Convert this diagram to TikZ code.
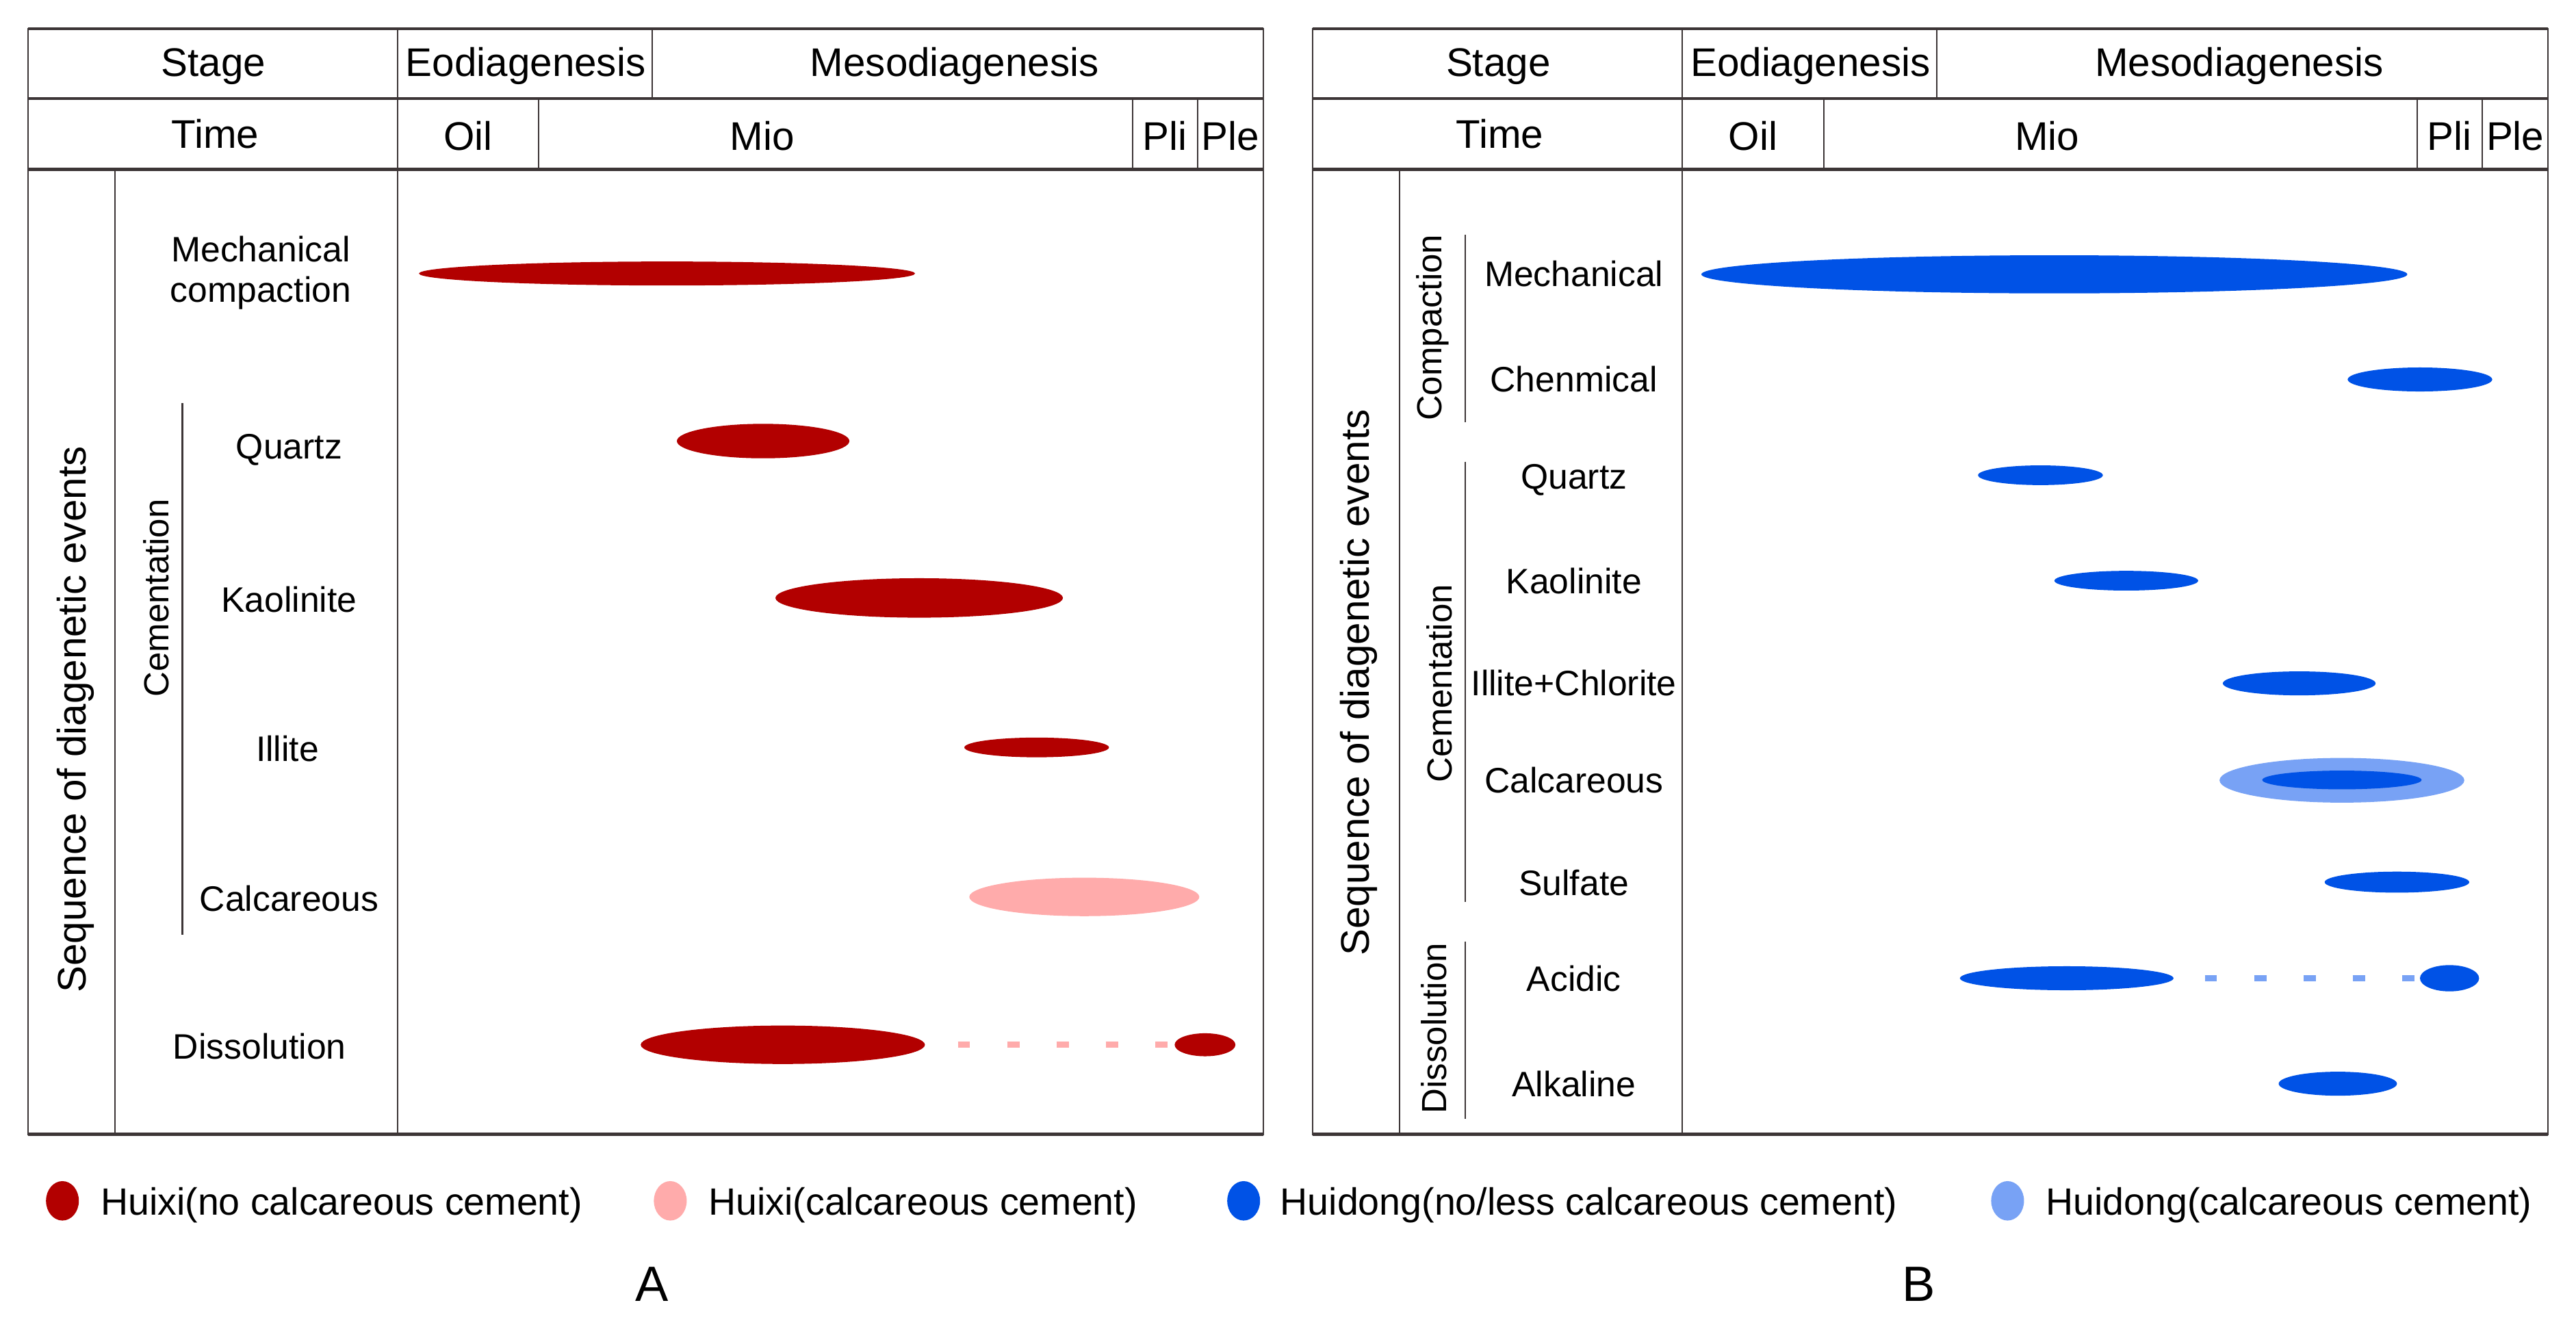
\documentclass[tikz,border=0pt]{standalone}
\usepackage{fontspec}
\setmainfont{Liberation Sans}
\usetikzlibrary{positioning,calc}
\definecolor{huixi}{HTML}{B20000}
\definecolor{huixicc}{HTML}{FFABAB}
\definecolor{huidong}{HTML}{0052E6}
\definecolor{huidongcc}{HTML}{78A2F5}
\definecolor{rulegray}{HTML}{3C3536}
% one diagenetic event: x from, x to, y, half height, colour
\newcommand{\event}[5]{\fill[#5] ({(#1+#2)/2},#3) ellipse [x radius={(#2-#1)/2}, y radius=#4];}

\begin{document}
\begin{tikzpicture}[x=0.024cm, y=-0.024cm,
  thickrule/.style={rulegray, line width=1.3pt},
  thinrule/.style={rulegray, line width=0.6pt},
  headtext/.style={font=\fontsize{16.6}{19}\selectfont, inner sep=0pt, anchor=base},
  evtext/.style={font=\fontsize{14.7}{16.6}\selectfont, inner sep=0pt, anchor=base},
  sidetext/.style={font=\fontsize{16.6}{19}\selectfont, inner sep=0pt, rotate=90},
  grouptext/.style={font=\fontsize{14.5}{17}\selectfont, inner sep=0pt, rotate=90},
  legtext/.style={font=\fontsize{15.8}{18}\selectfont, inner sep=0pt, anchor=base west},
  later/.style={line width=2.7pt, dash pattern=on 5.1pt off 15.4pt}
]
\useasboundingbox (0,0) rectangle (1568,818);

% Frames and headers of both panels
\foreach \ox/\pnl in {0/A,782/B}{
  \begin{scope}[shift={(\ox,0)}]
    \draw[thinrule] (17,17) -- (17,691) (769,17) -- (769,691) (242,17) -- (242,691) (70,103) -- (70,691);
    \draw[thinrule] (397,17) -- (397,60);
    \foreach \x in {328,689.5,729}
      \draw[thinrule] (\x,60) -- (\x,103);
    \foreach \y in {17.5,60,103,690.5}
      \draw[thickrule] (17,\y) -- (769,\y);
    \node[headtext] (stage\pnl) at (130,46.5) {Stage};
    \node[headtext] (eodia\pnl) at (320,46.5) {Eodiagenesis};
    \node[headtext] (mesodia\pnl) at (581,46.5) {Mesodiagenesis};
    \node[headtext] (time\pnl) at (131,90) {Time};
    \node[headtext] (oil\pnl) at (285,91.5) {Oil};
    \node[headtext] (mio\pnl) at (464,91.5) {Mio};
    \node[headtext] (pli\pnl) at (709,91.5) {Pli};
    \node[headtext] (ple\pnl) at (749,91.5) {Ple};
  \end{scope}
}

% Panel A: Huixi
\node[sidetext] (seqA) at (46,438) {Sequence of diagenetic events};
\node[grouptext] (cemA) at (95,364) {Cementation};
\draw[thinrule] (111,245.5) -- (111,569);
\node[evtext, anchor=center, align=center] (mechA) at (158.7,166) {Mechanical\\compaction};
\node[evtext] (qtzA) at (176,279.5) {Quartz};
\node[evtext] (kaoA) at (176,372.5) {Kaolinite};
\node[evtext] (illA) at (175,463.5) {Illite};
\node[evtext] (calA) at (176,554.5) {Calcareous};
\node[evtext] (disA) at (158,644.5) {Dissolution};
\event{255}{557}{166.5}{7.3}{huixi}
\event{412}{517}{268.5}{10.5}{huixi}
\event{472}{647}{364}{12}{huixi}
\event{587}{675}{455}{6}{huixi}
\event{590}{730}{546}{11.7}{huixicc}
\event{390}{563}{636}{11.7}{huixi}
\event{715}{752}{636}{7}{huixi}
\coordinate (disA1) at (583,636);
\coordinate (disA2) at (714,636);
\draw[later, huixicc] (disA1) -- (disA2);

% Panel B: Huidong
\node[sidetext] (seqB) at (827,415.5) {Sequence of diagenetic events};
\node[grouptext] (compB) at (872,199.5) {Compaction};
\node[grouptext] (cemB) at (876,416) {Cementation};
\node[grouptext] (disB) at (873,626) {Dissolution};
\draw[thinrule] (892,143) -- (892,257);
\draw[thinrule] (892,281) -- (892,549);
\draw[thinrule] (892,573) -- (892,681);
\node[evtext] (mechB) at (958,174.3) {Mechanical};
\node[evtext] (chemB) at (958,238.5) {Chenmical};
\node[evtext] (qtzB) at (958,297.5) {Quartz};
\node[evtext] (kaoB) at (958,361.5) {Kaolinite};
\node[evtext] (illB) at (958,423.5) {Illite+Chlorite};
\node[evtext] (calB) at (958,482.5) {Calcareous};
\node[evtext] (sulB) at (958,545) {Sulfate};
\node[evtext] (acdB) at (958,603.5) {Acidic};
\node[evtext] (alkB) at (958,667.5) {Alkaline};
\event{1035.6}{1465.3}{167}{11.6}{huidong}
\event{1429}{1517}{231}{7.3}{huidong}
\event{1204}{1280}{289.3}{6}{huidong}
\event{1250.5}{1338}{353.5}{6}{huidong}
\event{1353}{1446}{416}{7.3}{huidong}
\event{1351}{1500}{475}{13.6}{huidongcc}
\event{1377}{1474}{474.8}{5.7}{huidong}
\event{1415}{1503}{537}{6.4}{huidong}
\event{1193}{1323}{595.5}{7.3}{huidong}
\event{1473}{1509}{595.5}{8}{huidong}
\event{1387}{1459}{659.7}{7.3}{huidong}
\coordinate (acdB1) at (1342,595.5);
\coordinate (acdB2) at (1472,595.5);
\draw[later, huidongcc] (acdB1) -- (acdB2);

% Legend
\foreach \x/\c in {38/huixi,408/huixicc,757/huidong,1222/huidongcc}
  \fill[\c] (\x,731) ellipse [x radius=10, y radius=12];
\node[legtext] (legA1) at (61,739.5) {Huixi(no calcareous cement)};
\node[legtext] (legA2) at (431,739.5) {Huixi(calcareous cement)};
\node[legtext] (legB1) at (779,739.5) {Huidong(no/less calcareous cement)};
\node[legtext] (legB2) at (1245,739.5) {Huidong(calcareous cement)};

% Panel letters
\node[font=\fontsize{20.6}{24}\selectfont, inner sep=0pt, anchor=base] (panelA) at (397,792) {A};
\node[font=\fontsize{20.6}{24}\selectfont, inner sep=0pt, anchor=base] (panelB) at (1168,792) {B};
\end{tikzpicture}
\end{document}
